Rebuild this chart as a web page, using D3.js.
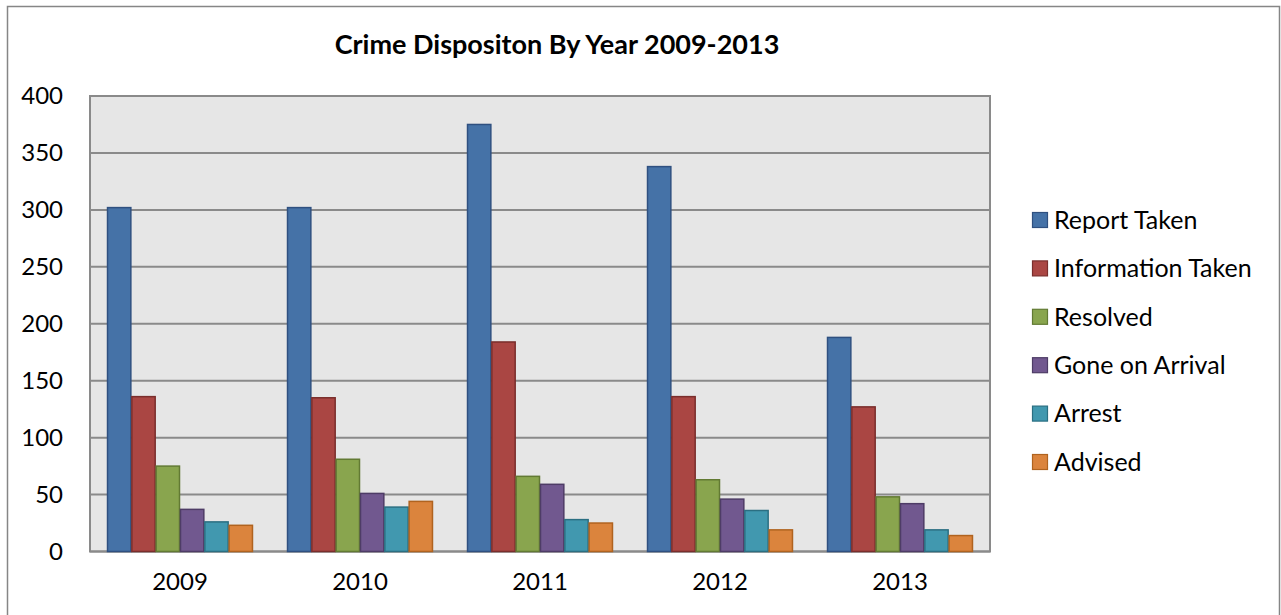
<!DOCTYPE html>
<html>
<head>
<meta charset="utf-8">
<script src="https://cdn.jsdelivr.net/npm/d3@7"></script>
<style>
  html, body { margin: 0; padding: 0; background: #ffffff; }
  svg { display: block; font-family: Lato, "Open Sans", sans-serif; }
</style>
</head>
<body>
<svg id="chart" width="1281" height="615"></svg>
<script>
// Crime disposition counts per year
const years = ["2009", "2010", "2011", "2012", "2013"];
const seriesNames = ["Report Taken", "Information Taken", "Resolved", "Gone on Arrival", "Arrest", "Advised"];
const reportTaken      = [302, 302, 375, 338, 188];
const informationTaken = [136, 135, 184, 136, 127];
const resolved         = [75, 81, 66, 63, 48];
const goneOnArrival    = [37, 51, 59, 46, 42];
const arrest           = [26, 39, 28, 36, 19];
const advised          = [23, 44, 25, 19, 14];
const yTicks = [0, 50, 100, 150, 200, 250, 300, 350, 400];

const seriesValues = [reportTaken, informationTaken, resolved, goneOnArrival, arrest, advised];
const fills   = ["#4572A7", "#AA4643", "#89A54E", "#71588F", "#4198AF", "#DB843D"];
const strokes = ["#2F5080", "#7A2E2C", "#627A33", "#4E3C66", "#2B6F82", "#B0631F"];

const svg = d3.select("#chart");

// Outer chart frame
svg.append("rect")
  .attr("x", 7.5).attr("y", 6.5)
  .attr("width", 1272).attr("height", 640)
  .attr("fill", "#ffffff")
  .attr("stroke", "#868686").attr("stroke-width", 1.5);

const plot = { left: 90, top: 96, right: 990, bottom: 551.5 };

const x0 = d3.scaleBand().domain(years).range([plot.left, plot.right]).paddingInner(0).paddingOuter(0);
const x1 = d3.scaleBand().domain(seriesNames).range([0, x0.bandwidth()]).paddingInner(0).paddingOuter(0.7);
const y = d3.scaleLinear().domain([0, 400]).range([plot.bottom, plot.top]);

// Plot area background
svg.append("rect")
  .attr("x", plot.left).attr("y", plot.top)
  .attr("width", plot.right - plot.left).attr("height", plot.bottom - plot.top)
  .attr("fill", "#e6e6e6");

// Horizontal gridlines
svg.append("g")
  .selectAll("line")
  .data(yTicks)
  .join("line")
  .attr("x1", plot.left).attr("x2", plot.right)
  .attr("y1", d => y(d)).attr("y2", d => y(d))
  .attr("stroke", "#8a8a8a").attr("stroke-width", 2);

// Plot border
svg.append("rect")
  .attr("x", plot.left).attr("y", plot.top)
  .attr("width", plot.right - plot.left).attr("height", plot.bottom - plot.top)
  .attr("fill", "none")
  .attr("stroke", "#8a8a8a").attr("stroke-width", 2);

// Bars
const rows = [];
years.forEach((yr, i) => {
  seriesNames.forEach((s, j) => rows.push({ year: yr, series: s, idx: j, value: seriesValues[j][i] }));
});

svg.append("g")
  .selectAll("rect")
  .data(rows)
  .join("rect")
  .attr("x", d => x0(d.year) + x1(d.series) + 0.5)
  .attr("y", d => y(d.value))
  .attr("width", x1.bandwidth() - 1)
  .attr("height", d => y(0) - y(d.value))
  .attr("fill", d => fills[d.idx])
  .attr("stroke", d => strokes[d.idx])
  .attr("stroke-width", 1.5);

// Y axis labels
const yAxis = d3.axisLeft(y).tickValues(yTicks).tickSize(0).tickPadding(27);
const gy = svg.append("g").attr("transform", `translate(${plot.left},0)`).call(yAxis);
gy.select(".domain").remove();
gy.selectAll("text").attr("font-size", 24).attr("fill", "#000").attr("font-family", "Lato, sans-serif");

// X axis labels
const xAxis = d3.axisBottom(x0).tickSize(0).tickPadding(21);
const gx = svg.append("g").attr("transform", `translate(0,${plot.bottom})`).call(xAxis);
gx.select(".domain").remove();
gx.selectAll("text").attr("font-size", 24).attr("fill", "#000").attr("font-family", "Lato, sans-serif");

// Title
svg.append("text")
  .attr("x", 557).attr("y", 54)
  .attr("text-anchor", "middle")
  .attr("font-size", 27).attr("font-weight", "bold")
  .attr("fill", "#000")
  .text("Crime Dispositon By Year 2009-2013");

// Legend
const legend = svg.append("g").attr("transform", "translate(1032,220)");
const items = legend.selectAll("g")
  .data(seriesNames)
  .join("g")
  .attr("transform", (d, i) => `translate(0,${i * 48.4})`);
items.append("rect")
  .attr("x", 0.5).attr("y", -7.5)
  .attr("width", 15).attr("height", 15)
  .attr("fill", (d, i) => fills[i])
  .attr("stroke", (d, i) => strokes[i]).attr("stroke-width", 1.2);
items.append("text")
  .attr("x", 22).attr("y", 0)
  .attr("dy", "0.35em")
  .attr("font-size", 25)
  .attr("fill", "#000")
  .text(d => d);
</script>
</body>
</html>
